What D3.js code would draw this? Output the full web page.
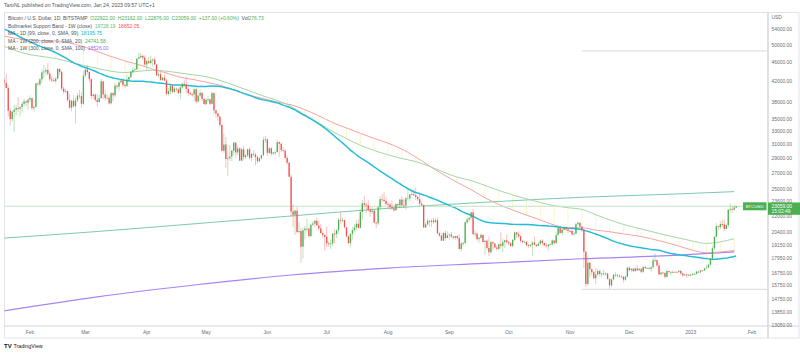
<!DOCTYPE html>
<html>
<head>
<meta charset="utf-8">
<script src="https://cdn.jsdelivr.net/npm/d3@7"></script>
<style>
    body { margin: 0; background: #fff; }
    svg { display: block; font-family: "Liberation Sans", Arial, sans-serif; }
</style>
</head>
<body>
<svg class="chart"></svg>
<script>

// daily BTCUSD (Bitstamp), 2022-01-19 .. 2023-01-24, open = previous close
var firstDay = "2022-01-19";
var firstOpen = 42370;

var closes = [
    41660,40680,36460,35050,36280,36660,36950,36840,37140,37710,38150,37920,38480,
    38740,36950,37150,41570,41400,42410,43840,44040,44370,43560,42400,42200,42070,42560,44580,43950,40550,40000,40120,38400,37030,38270,37270,38350,39230,39140,37720,43190,
    44420,43930,42460,39150,39400,38420,38060,38740,41980,39440,38790,38810,37790,39670,39290,41140,40950,41800,42190,41250,41080,42360,42900,43960,44350,44500,46820,47130,47460,47070,45540,
    46280,45870,46450,46620,45550,43200,43450,42250,42760,42160,39530,40080,41150,39940,40550,40410,39700,40810,41500,41370,40480,39710,39470,39450,40430,38120,39240,39740,38600,37640,
    38470,38530,37710,39690,36550,36010,35470,34060,30100,31020,28940,29040,29280,30100,31300,29860,30430,28700,30310,29200,29430,30320,29100,29650,29540,29200,28630,29030,29470,31730,31800,
    29800,30450,29700,29860,29910,31370,31130,30200,30110,29080,28420,26570,22490,22140,22580,20380,20470,19000,20550,20710,20720,19990,21100,21230,21500,21030,20730,20280,20100,19930,
    19300,19250,19300,20230,20190,20550,21620,21590,21590,20850,19960,19330,20210,20570,20830,21200,20790,22430,23390,23230,23160,22680,22450,22580,21310,21250,22950,23850,23780,23650,23300,
    23270,22980,22820,22620,23310,23180,23810,23160,23150,23950,23950,24400,24440,24300,24100,23860,23340,23210,20830,21140,21520,21400,21530,21370,21570,20260,20040,19550,20290,19800,20050,
    20130,19950,19830,19990,19800,18790,19290,19320,21360,21650,21830,22400,20170,20230,19700,19800,20110,19420,19540,18880,18490,19410,19290,18920,18800,19220,19080,19410,19590,19420,
    19310,19060,19630,20340,20160,19960,19530,19420,19450,19130,19060,19160,19380,19180,19070,19270,19550,19330,19120,19040,19170,19210,19570,19330,20090,20770,20290,20600,20820,20630,20490,
    20480,20150,20210,21150,21300,20910,20600,18540,15880,17590,17050,16810,16330,16620,16900,16660,16690,16700,16700,16280,15780,16230,16600,16600,16520,16460,16440,16220,16440,17170,
    16980,17090,16890,17110,16970,17090,16840,17230,17130,17130,17090,17210,17780,17810,17360,16630,16780,16740,16440,16900,16820,16830,16780,16840,16830,16920,16700,16550,16630,16600,16540,
    16620,16670,16670,16850,16830,16950,16940,17120,17180,17440,17940,18850,19930,20960,20880,21180,21130,20680,21070,22670,22780,22710,22922,23059
];

var highs = [
    42580,43500,41100,36850,36500,37550,37550,38920,37230,38000,38700,38350,38700,
    39250,38850,37400,41700,41950,42650,44500,45500,44800,45800,43900,43000,42750,42850,44750,44600,44200,40950,40500,40150,39500,38450,39300,38950,39700,40300,39850,44250,
    44950,45400,44100,42550,39650,39650,39500,39400,42600,42050,40250,39450,39300,39900,39900,41700,41450,42350,42400,42300,41550,43350,42900,44200,45100,44800,46900,48200,48100,47700,47600,
    46650,47200,47450,46900,47150,45550,43900,43950,42800,43450,42450,40700,41550,41500,40850,40700,40600,41100,41750,42200,42950,40800,39950,39900,40600,40800,39450,40350,39950,38800,
    38650,39150,38650,40000,39800,36600,36100,35500,34250,32650,32150,30050,30950,30250,31400,31300,30750,30650,30500,30750,29600,30450,30650,29800,30200,29850,29350,29200,29550,32200,32350,
    31950,30650,30650,29950,30150,31750,31550,31350,30650,30350,29450,28550,26900,23300,22700,22950,21350,20800,20800,21000,21700,20850,21200,21500,21600,21850,21500,21200,20400,20150,
    20900,19450,19650,20300,20700,20650,21800,22400,21900,21600,20850,20050,20250,20850,21200,21550,21650,22700,23750,24250,23450,23750,22950,22950,22650,21350,23100,24200,24450,24650,24150,
    23500,23450,23650,23200,23450,23350,23950,24250,23950,24200,24900,24450,24850,25050,25200,24250,24450,23600,23200,21350,21750,21500,21650,21850,21800,21850,20350,20150,20400,20550,20450,
    20200,20400,20000,20000,20050,20150,19450,19450,21450,21800,21850,22450,22750,20550,20350,19900,20200,20100,19650,19650,19950,19500,19500,19300,19150,19300,20350,19750,19650,20150,
    19500,19400,19700,20450,20350,20450,20050,19600,19550,19500,19250,19250,19500,19950,19200,19400,19650,19700,19350,19350,19250,19250,19700,19600,20400,21000,20850,20750,21050,20900,20800,
    20650,20800,20400,21300,21450,21350,20950,20650,18600,18150,17650,17100,16900,17150,17100,17000,16750,17000,16800,16750,16300,16300,16650,16800,16600,16650,16600,16500,16550,17250,
    17300,17100,17150,17200,17400,17100,17100,17300,17350,17200,17250,17250,18000,18400,17850,17550,16800,16850,16800,17050,16900,16850,16950,16850,16850,16950,16950,16750,16650,16650,16650,
    16650,16750,16750,16950,16900,17000,16980,17150,17400,17500,18000,19100,19950,21250,21000,21450,21600,21650,21200,22750,23350,23050,23150,23162
];

var lows = [
    41150,40600,35500,34010,34600,32950,35700,36250,35520,36150,37300,37350,36650,
    38000,36600,36250,37050,40950,41100,41700,42700,43200,43200,42000,41800,41900,41600,42450,43350,40100,39500,39650,38050,36800,36400,37050,34300,38050,38600,37000,37500,
    42850,43400,41850,38650,38600,38100,37200,37900,38700,38550,38250,38700,37600,37600,38150,38900,40550,40150,41550,40950,40550,40900,41750,42600,43650,44100,44400,46650,46950,46600,45200,
    44250,45650,45550,45150,45450,43150,42750,42150,42150,42150,39250,39250,39550,39600,39800,40050,39550,38550,40600,40850,39750,39200,39300,39050,38200,37750,37900,38900,38200,37600,
    37400,38050,37500,37650,35850,35300,34800,33700,30000,29800,27750,26700,28700,28650,29500,29100,29450,28700,28700,28750,28950,29250,28900,28650,29300,28050,28300,28500,28850,29300,31250,
    29350,29600,29350,29500,29500,29900,29250,29900,29950,28900,28150,26550,21950,20850,20100,20250,20250,17600,17950,19650,20350,19800,19900,20950,20900,21000,20550,20200,19850,18650,
    18950,19000,18800,19050,19300,19800,20250,21200,21350,20700,19900,19250,18950,19650,20400,20550,20750,20750,21650,22950,22350,22550,21950,22250,21250,20750,21050,22600,23450,23550,23250,
    22850,22650,22700,22450,22600,22950,22900,23150,22900,22700,23900,23600,24300,24250,23800,23650,23200,23100,20800,20800,21050,20900,20900,21150,21300,20150,19900,19550,19600,19550,19800,
    19650,19800,19650,19600,19650,18700,18550,19050,19300,21150,21350,21550,20100,19850,19550,19350,19750,19400,18250,18750,18150,18400,18650,18850,18650,18700,18850,18500,18850,19200,
    19150,18950,18950,19500,19800,19850,19350,19300,19300,19050,18900,18950,18200,19100,18950,19050,19150,19100,19050,18900,18650,19100,19100,19150,19250,20050,20200,20050,20550,20500,20250,
    20350,20050,20050,20200,21100,20900,20400,17150,15650,15750,16400,16550,16250,15850,16550,16450,16400,16550,16550,16200,15500,15650,16150,16450,16350,16400,16400,16000,16100,16400,
    16850,16800,16850,16850,16900,16900,16700,16750,17100,17100,17050,16850,17100,17650,17300,16550,16600,16650,16300,16400,16700,16550,16750,16750,16750,16750,16600,16450,16500,16350,16500,
    16500,16550,16600,16650,16750,16700,16900,16900,17100,17150,17300,17900,18700,19900,20600,20650,20850,20450,20650,20850,22450,22350,22550,22876
];

// daily closes 2021-10-13 .. 2022-01-18, only needed to warm up the 99 day MA
var histCloses = [
    57400,57350,61700,60900,61550,62000,64300,66000,62200,60700,61300,60900,63100,60300,58500,60600,62250,61850,61300,
    61000,63250,62950,61450,61000,61500,63300,67550,66950,64900,64950,64150,64400,65500,63600,60150,60350,56900,58100,59750,58700,56300,57550,57150,58950,53750,54750,57250,57800,56950,
    57200,56500,53600,49200,49400,50550,50600,50500,47650,47150,49350,50100,46700,48400,48900,47650,46200,46850,46700,46900,49000,48600,50800,50450,50800,50800,50650,47550,46450,47150,46200,
    47700,47300,46450,45850,43450,43100,41550,41700,41850,41850,42750,43950,42600,43100,43200,43100,42250,42400
];

// weekly (Sunday) closes 2021-05-02 .. 2022-01-16, warm-up for the bull market support band
var firstWeek = "2021-05-02";
var histWeekly = [
    56600,58200,46400,34700,35650,35800,39100,35600,34700,35300,34250,31800,35400,39850,43800,47050,49300,48800,51750,
    46050,47250,43200,48200,54950,61550,60900,61300,63300,65500,58700,57250,49400,50100,46700,50800,47300,41850,43100
];

// long weekly MAs (no history long enough to compute them)
var maDates = ["2022-01-17","2022-03-07","2022-04-25","2022-06-13","2022-08-01","2022-09-19","2022-11-07","2022-12-26","2023-01-23"];
var ma200 = [19770, 20430, 21200, 22010, 22840, 23510, 24080, 24470, 24741.58];
var ma300 = [13920, 14930, 15800, 16580, 17140, 17530, 17920, 18240, 18526];

// horizontal levels drawn on the chart (start date, price)
var levels = [["2022-11-07", 48600], ["2022-11-07", 15480]];

var priceTicks = [54000, 50000, 46000, 42000, 38000, 35000, 33000, 31000, 29000, 27000, 25000, 23600, 22000,
                  20400, 19150, 17950, 16750, 15750, 14750, 13850, 13050];
var monthTicks = ["2022-02-01","2022-03-01","2022-04-01","2022-05-01","2022-06-01","2022-07-01","2022-08-01",
                  "2022-09-01","2022-10-01","2022-11-01","2022-12-01","2023-01-01","2023-02-01"];

var lastPrice = 23059, countdown = "15:02:49";

(function show() {

    'use strict';

    var width = 800, height = 353;
    var plot = {left: 4.5, right: 767, top: 12.5, bottom: 326};
    var DAY = 864e5;
    var parse = d3.utcParse("%Y-%m-%d");

    var up = "#4caf50", down = "#ef5350";

    var svg = d3.select(".chart")
        .attr("width", width)
        .attr("height", height);

    var x = d3.scaleUtc()
        .domain([parse("2022-02-01"), parse("2023-02-01")])
        .range([30, 752]);

    var y = d3.scaleLog()
        .domain([13850, 54000])
        .range([312.5, 29]);

    var start = parse(firstDay);
    var candles = closes.map(function(c, i) {
        var o = i ? closes[i - 1] : firstOpen;
        return {
            date: new Date(+start + i * DAY),
            o: o, c: c,
            h: Math.max(highs[i], o, c),
            l: Math.min(lows[i], o, c)
        };
    });

    // 99 day SMA
    var all = histCloses.concat(closes);
    var ma99 = candles.map(function(d, i) {
        var j = i + histCloses.length;
        return {date: d.date, v: d3.mean(all.slice(j - 98, j + 1))};
    });

    // weekly closes -> 20W SMA and 21W EMA, plotted on the Monday after each week closes
    var weekly = histWeekly.slice();
    candles.forEach(function(d) { if (d.date.getUTCDay() === 0) weekly.push(d.c); });
    var w0 = parse(firstWeek), alpha = 2 / 22, ema = weekly[0];
    var band = [];
    weekly.forEach(function(c, k) {
        ema = k ? alpha * c + (1 - alpha) * ema : c;
        if (k < 19) return;
        var monday = new Date(+w0 + (k * 7 + 1) * DAY);
        if (monday < parse("2022-01-17")) return;
        band.push({date: monday, sma: d3.mean(weekly.slice(k - 19, k + 1)), ema: ema});
    });

    var longMA = maDates.map(function(s, i) {
        return {date: parse(s), a: ma200[i], b: ma300[i]};
    });

    // frame
    svg.append("rect")
        .attr("x", plot.left).attr("y", plot.top)
        .attr("width", 799 - plot.left).attr("height", 338 - plot.top)
        .attr("fill", "none").attr("stroke", "#e0e3eb");
    svg.append("line")
        .attr("x1", plot.left).attr("x2", 799).attr("y1", plot.bottom).attr("y2", plot.bottom)
        .attr("stroke", "#d1d4dc");
    svg.append("line")
        .attr("x1", plot.right + 1).attr("x2", plot.right + 1).attr("y1", plot.top).attr("y2", 338)
        .attr("stroke", "#d1d4dc").attr("stroke-width", 1.4);

    svg.append("clipPath").attr("id", "clip")
        .append("rect")
        .attr("x", plot.left).attr("y", plot.top)
        .attr("width", plot.right - plot.left).attr("height", plot.bottom - plot.top);

    var chart = svg.append("g").attr("clip-path", "url(#clip)");

    chart.selectAll(".level")
        .data(levels)
        .enter().append("line")
        .attr("class", "level")
        .attr("x1", function(d) { return x(parse(d[0])); })
        .attr("x2", plot.right)
        .attr("y1", function(d) { return y(d[1]); })
        .attr("y2", function(d) { return y(d[1]); })
        .attr("stroke", "#cfd1d6").attr("stroke-width", 0.8);

    // band fill: faint verticals on each weekly update
    chart.selectAll(".fill")
        .data(band)
        .enter().append("line")
        .attr("class", "fill")
        .attr("x1", function(d) { return x(d.date); })
        .attr("x2", function(d) { return x(d.date); })
        .attr("y1", function(d) { return y(d.sma); })
        .attr("y2", function(d) { return y(d.ema); })
        .attr("stroke", "#fbe88a").attr("stroke-width", 0.8).attr("opacity", 0.55);

    function path(data, key, color, w, curve) {
        chart.append("path")
            .datum(data)
            .attr("fill", "none")
            .attr("stroke", color)
            .attr("stroke-width", w)
            .attr("d", d3.line()
                .curve(curve || d3.curveLinear)
                .x(function(d) { return x(d.date); })
                .y(function(d) { return y(d[key]); }));
    }

    path(longMA, "b", "#a883f5", 1.1, d3.curveMonotoneX);
    path(longMA, "a", "#7ccaa9", 1.0, d3.curveMonotoneX);
    path(band, "sma", "#f4a3a3", 1.0, d3.curveMonotoneX);
    path(band, "ema", "#a5d6a7", 1.0, d3.curveMonotoneX);
    path(ma99, "v", "#26bcd7", 1.5);

    // last price line
    chart.append("line")
        .attr("x1", plot.left).attr("x2", plot.right)
        .attr("y1", y(lastPrice)).attr("y2", y(lastPrice))
        .attr("stroke", "#c3e3c4").attr("stroke-width", 1);

    var bw = 1.3;
    var bars = chart.selectAll(".candle")
        .data(candles)
        .enter().append("g")
        .attr("class", "candle");

    bars.append("line")
        .attr("x1", function(d) { return x(d.date); })
        .attr("x2", function(d) { return x(d.date); })
        .attr("y1", function(d) { return y(d.h); })
        .attr("y2", function(d) { return y(d.l); })
        .attr("stroke", function(d) { return d.c >= d.o ? up : down; })
        .attr("stroke-width", 0.8)
        .attr("opacity", 0.45);

    bars.append("rect")
        .attr("x", function(d) { return x(d.date) - bw / 2; })
        .attr("width", bw)
        .attr("y", function(d) { return y(Math.max(d.o, d.c)); })
        .attr("height", function(d) { return Math.max(0.8, Math.abs(y(d.o) - y(d.c))); })
        .attr("fill", function(d) { return d.c >= d.o ? up : down; });

    // price axis
    var axisG = svg.append("g").attr("font-size", 4.9).attr("fill", "#6a6d78");
    axisG.append("text").attr("x", 771.5).attr("y", 18.5).text("USD");
    axisG.selectAll(".tick")
        .data(priceTicks)
        .enter().append("text")
        .attr("class", "tick")
        .attr("x", 771.5)
        .attr("y", function(d) { return y(d) + 1.7; })
        .text(function(d) { return d3.format(".2f")(d); });

    // last price tag
    var ly = y(lastPrice);
    svg.append("rect")
        .attr("x", 768).attr("y", ly - 3.8).attr("width", 32).attr("height", 12.3)
        .attr("fill", up);
    svg.append("text").attr("x", 771.5).attr("y", ly + 1.8)
        .attr("font-size", 4.9).attr("fill", "#fff").text(d3.format(".2f")(lastPrice));
    svg.append("text").attr("x", 771.5).attr("y", ly + 7.2)
        .attr("font-size", 4.9).attr("fill", "#fff").text(countdown);

    svg.append("rect")
        .attr("x", 743).attr("y", ly - 4).attr("width", 23.5).attr("height", 8)
        .attr("fill", up);
    svg.append("text").attr("x", 754.7).attr("y", ly + 1.6)
        .attr("text-anchor", "middle").attr("font-size", 4.4).attr("fill", "#fff").text("BTCUSD");

    // time axis
    svg.append("g").attr("font-size", 4.9).attr("fill", "#6a6d78")
        .selectAll("text")
        .data(monthTicks.map(parse))
        .enter().append("text")
        .attr("x", function(d) { return x(d); })
        .attr("y", 333.5)
        .attr("text-anchor", "middle")
        .text(function(d) { return d.getUTCMonth() === 0 ? d.getUTCFullYear() : d3.utcFormat("%b")(d); });

    // header and legend
    svg.append("text").attr("x", 4).attr("y", 6.5)
        .attr("font-size", 5.1).attr("fill", "#50535e")
        .text("TaroNL published on TradingView.com, Jan 24, 2023 09:57 UTC+1");

    var legend = [
        [["Bitcoin / U.S. Dollar, 1D, BITSTAMP  ", "#50535e"],
         ["O22922.00  H23162.00  L22876.00  C23059.00  +137.00 (+0.60%)  ", up],
         ["Vol", "#50535e"], ["276.73", up]],
        [["Bullmarket Support Band - 1W (close)  ", "#50535e"], ["19728.19  ", "#66bb6a"], ["18652.05", down]],
        [["MA - 1D (99, close, 0, SMA, 99)  ", "#50535e"], ["18195.75", "#00bcd4"]],
        [["MA - 1W (200, close, 0, SMA, 20)  ", "#50535e"], ["24741.58", "#4caf50"]],
        [["MA - 1W (300, close, 0, SMA, 100)  ", "#50535e"], ["18526.00", "#9c6cf0"]]
    ];

    legend.forEach(function(row, i) {
        var t = svg.append("text")
            .attr("x", 8).attr("y", 20 + i * 7.5)
            .attr("font-size", 5.0)
            .attr("xml:space", "preserve");
        row.forEach(function(part) {
            t.append("tspan").attr("fill", part[1]).text(part[0]);
        });
    });

    // footer logo
    svg.append("text").attr("x", 4).attr("y", 348)
        .attr("font-size", 6).attr("font-weight", "bold").attr("fill", "#131722").text("TV");
    svg.append("text").attr("x", 13.5).attr("y", 348)
        .attr("font-size", 5.3).attr("fill", "#131722").text("TradingView");
})();
</script>
</body>
</html>
